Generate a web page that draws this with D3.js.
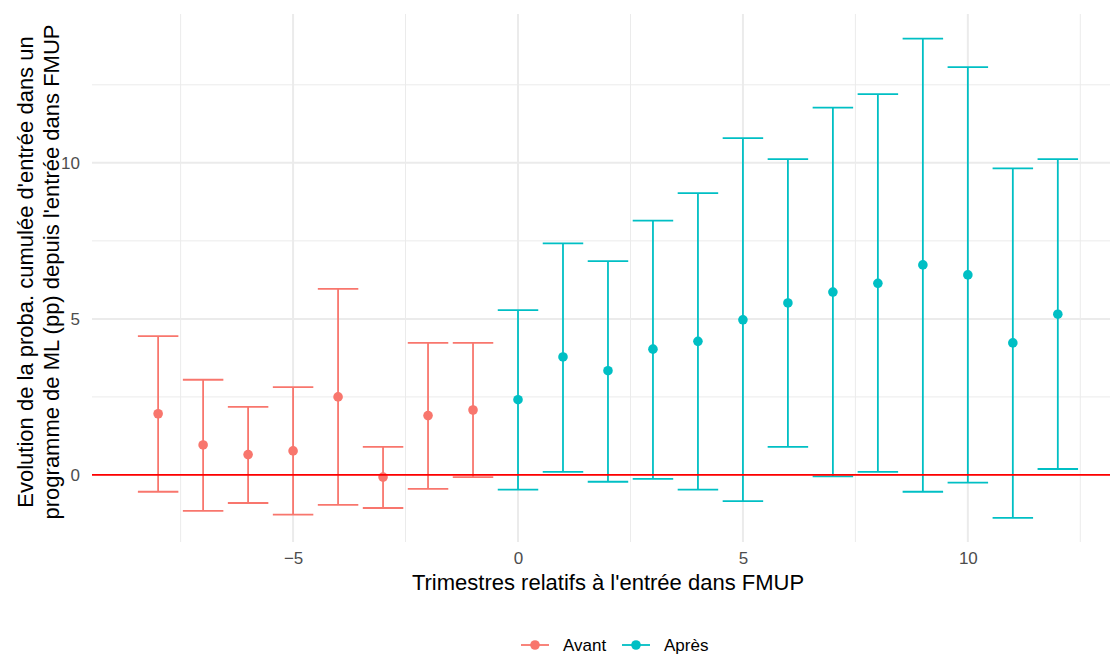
<!DOCTYPE html>
<html>
<head>
<meta charset="utf-8">
<script src="https://cdn.jsdelivr.net/npm/d3@7"></script>
<style>
  body { margin: 0; background: #fff; }
  svg { font-family: "Liberation Sans", Arial, sans-serif; }
</style>
</head>
<body>
<svg id="chart" width="1115" height="655"></svg>
<script>
// Quarters relative to entry into FMUP
const quarters = [-8, -7, -6, -5, -4, -3, -2, -1, 0, 1, 2, 3, 4, 5, 6, 7, 8, 9, 10, 11, 12];
// Point estimates (pp)
const estimates = [1.96, 0.96, 0.65, 0.77, 2.50, -0.07, 1.90, 2.08, 2.41, 3.78, 3.34, 4.03, 4.28, 4.97, 5.51, 5.86, 6.14, 6.73, 6.41, 4.23, 5.15];
// Upper bounds of the confidence intervals
const upper = [4.45, 3.05, 2.18, 2.81, 5.96, 0.90, 4.23, 4.23, 5.28, 7.42, 6.85, 8.15, 9.03, 10.79, 10.12, 11.77, 12.20, 13.98, 13.07, 9.82, 10.12];
// Lower bounds of the confidence intervals
const lower = [-0.54, -1.15, -0.90, -1.27, -0.96, -1.06, -0.45, -0.07, -0.47, 0.10, -0.22, -0.13, -0.47, -0.84, 0.90, -0.05, 0.10, -0.54, -0.25, -1.38, 0.19];
// Period groups
const groups = ["Avant", "Après"];
const groupColors = ["#F8766D", "#00BFC4"];
const xTicks = [-5, 0, 5, 10];
const yTicks = [0, 5, 10];

const rows = quarters.map((q, i) => ({
  q, est: estimates[i], lo: lower[i], hi: upper[i],
  group: q < 0 ? groups[0] : groups[1]
}));

const svg = d3.select("#chart");
const panel = { left: 92, right: 1110, top: 14, bottom: 542 };

const x = d3.scaleLinear().domain([-9.47, 13.16]).range([panel.left, panel.right]);
const y = d3.scaleLinear().domain([-2.15, 14.77]).range([panel.bottom, panel.top]);
const color = d3.scaleOrdinal().domain(groups).range(groupColors);

// Minor grid
const xMinor = d3.range(-7.5, 13, 5);
const yMinor = [-2.5, 2.5, 7.5, 12.5].filter(v => v >= y.domain()[0] && v <= y.domain()[1]);
const grid = svg.append("g");
grid.selectAll(".vminor").data(xMinor).join("line")
  .attr("x1", d => x(d)).attr("x2", d => x(d))
  .attr("y1", panel.top).attr("y2", panel.bottom)
  .attr("stroke", "#EBEBEB").attr("stroke-width", 1);
grid.selectAll(".hminor").data(yMinor).join("line")
  .attr("y1", d => y(d)).attr("y2", d => y(d))
  .attr("x1", panel.left).attr("x2", panel.right)
  .attr("stroke", "#EBEBEB").attr("stroke-width", 1);
// Major grid
grid.selectAll(".vmajor").data(xTicks).join("line")
  .attr("x1", d => x(d)).attr("x2", d => x(d))
  .attr("y1", panel.top).attr("y2", panel.bottom)
  .attr("stroke", "#EBEBEB").attr("stroke-width", 2);
grid.selectAll(".hmajor").data(yTicks).join("line")
  .attr("y1", d => y(d)).attr("y2", d => y(d))
  .attr("x1", panel.left).attr("x2", panel.right)
  .attr("stroke", "#EBEBEB").attr("stroke-width", 2);

// Axes (labels only, minimal theme)
const xAxis = svg.append("g")
  .attr("transform", `translate(0,${panel.bottom})`)
  .call(d3.axisBottom(x).tickValues(xTicks).tickSize(0).tickPadding(10)
    .tickFormat(d => d < 0 ? "\u2212" + Math.abs(d) : d));
xAxis.select(".domain").remove();
xAxis.selectAll("text").attr("fill", "#4D4D4D").attr("font-size", "17px");

const yAxis = svg.append("g")
  .attr("transform", `translate(${panel.left},0)`)
  .call(d3.axisLeft(y).tickValues(yTicks).tickSize(0).tickPadding(12));
yAxis.select(".domain").remove();
yAxis.selectAll("text").attr("fill", "#4D4D4D").attr("font-size", "17px");

// Error bars
const capHalf = (x(0.45) - x(0));
const bars = svg.append("g").selectAll("g").data(rows).join("g")
  .attr("stroke", d => color(d.group)).attr("stroke-width", 1.8);
bars.append("line")
  .attr("x1", d => x(d.q)).attr("x2", d => x(d.q))
  .attr("y1", d => y(d.lo)).attr("y2", d => y(d.hi));
bars.append("line")
  .attr("x1", d => x(d.q) - capHalf).attr("x2", d => x(d.q) + capHalf)
  .attr("y1", d => y(d.hi)).attr("y2", d => y(d.hi));
bars.append("line")
  .attr("x1", d => x(d.q) - capHalf).attr("x2", d => x(d.q) + capHalf)
  .attr("y1", d => y(d.lo)).attr("y2", d => y(d.lo));

// Point estimates
svg.append("g").selectAll("circle").data(rows).join("circle")
  .attr("cx", d => x(d.q)).attr("cy", d => y(d.est)).attr("r", 4.8)
  .attr("fill", d => color(d.group));

// Zero reference line
svg.append("line")
  .attr("x1", panel.left).attr("x2", panel.right)
  .attr("y1", y(0)).attr("y2", y(0))
  .attr("stroke", "#FF0000").attr("stroke-width", 1.8);

// Axis titles
svg.append("text")
  .attr("x", 608).attr("y", 590)
  .attr("text-anchor", "middle").attr("font-size", "22px").attr("fill", "#000")
  .text("Trimestres relatifs à l'entrée dans FMUP");

const yTitle = svg.append("text")
  .attr("transform", `translate(0,272) rotate(-90)`)
  .attr("text-anchor", "middle").attr("font-size", "22px").attr("fill", "#000");
yTitle.append("tspan").attr("x", 0).attr("y", 33).text("Evolution de la proba. cumulée d'entrée dans un");
yTitle.append("tspan").attr("x", 0).attr("y", 59).text("programme de ML (pp) depuis l'entrée dans FMUP");

// Legend
const legendItems = [
  { label: groups[0], x0: 521 },
  { label: groups[1], x0: 622 }
];
const legend = svg.append("g");
const li = legend.selectAll("g").data(legendItems).join("g")
  .attr("transform", d => `translate(${d.x0},645)`);
li.append("line").attr("x1", 0).attr("x2", 28).attr("y1", 0).attr("y2", 0)
  .attr("stroke", d => color(d.label)).attr("stroke-width", 1.8);
li.append("circle").attr("cx", 14).attr("cy", 0).attr("r", 4.8)
  .attr("fill", d => color(d.label));
li.append("text").attr("x", 42).attr("y", 0).attr("dy", "0.35em")
  .attr("font-size", "17px").attr("fill", "#000").text(d => d.label);
</script>
</body>
</html>
